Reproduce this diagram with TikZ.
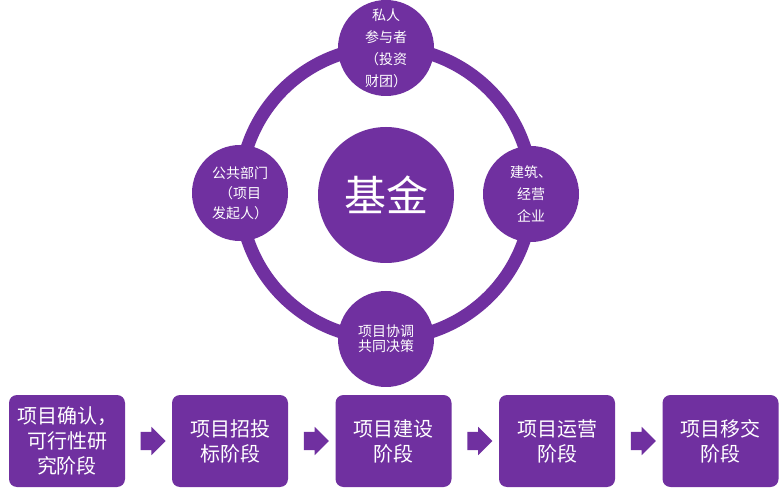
\documentclass[tikz,border=0pt]{standalone}
\usepackage{fontspec}
\setmainfont{Noto Sans CJK SC}
\usetikzlibrary{shapes.arrows,calc}
\definecolor{purp}{RGB}{112,48,160}
\begin{document}
\begin{tikzpicture}[x=1pt,y=-1pt,
  phase/.style={fill=purp, rounded corners=8pt, minimum width=116pt, minimum height=92pt,
    text=white, font=\fontsize{20}{25}\selectfont, align=center, inner sep=0pt},
  party/.style={circle, fill=purp, minimum size=96pt, inner sep=0pt, text=white, align=center},
  hub/.style={circle, fill=purp, minimum size=136pt, inner sep=0pt, text=white, font=\fontsize{42}{46}\selectfont},
  ring/.style={draw=purp, line width=13pt},
  arrowblk/.style={single arrow, fill=purp, minimum height=25pt, inner xsep=0pt, inner ysep=9pt,
    single arrow head extend=5pt}]
\useasboundingbox (0,0) rectangle (780,497);
\fill[white] (0,0) rectangle (780,497);
% ring
\coordinate (rc) at (386,193);
\draw[ring] (rc) circle[radius=146pt];
% parties
\node[hub] (fund) at (386,195) {基金};
\node[party, font=\fontsize{14}{22}\selectfont] (top) at (386,48) {私人\\参与者\\（投资\\财团）};
\node[party, font=\fontsize{14}{20}\selectfont] (left) at (240,193) {公共部门\\（项目\\发起人）};
\node[party, font=\fontsize{14}{22}\selectfont] (right) at (531,194) {建筑、\\经营\\企业};
\node[party, font=\fontsize{14}{15}\selectfont] (bottom) at (386,339) {项目协调\\共同决策};
% phases
\node[phase] (p1) at (67,441) {项目确认，\\可行性研\\究阶段};
\node[phase] (p2) at (230,441) {项目招投\\标阶段};
\node[phase] (p3) at (393.5,441) {项目建设\\阶段};
\node[phase] (p4) at (557,441) {项目运营\\阶段};
\node[phase] (p5) at (720.5,441) {项目移交\\阶段};
% arrows
\node[arrowblk] (a1) at ($(p1.east)!0.5!(p2.west)$) {};
\node[arrowblk] (a2) at ($(p2.east)!0.5!(p3.west)$) {};
\node[arrowblk] (a3) at ($(p3.east)!0.5!(p4.west)$) {};
\node[arrowblk] (a4) at ($(p4.east)!0.5!(p5.west)$) {};
\end{tikzpicture}
\end{document}
